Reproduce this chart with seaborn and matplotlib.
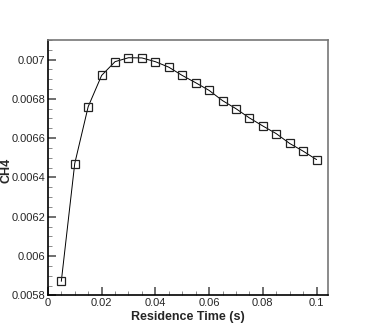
import matplotlib
matplotlib.use('Agg')
import matplotlib.pyplot as plt
from matplotlib.ticker import MultipleLocator, FuncFormatter
import seaborn as sns

residence_time = [0.005, 0.01, 0.015, 0.02, 0.025, 0.03, 0.035, 0.04, 0.045, 0.05,
                  0.055, 0.06, 0.065, 0.07, 0.075, 0.08, 0.085, 0.09, 0.095, 0.1]
ch4 = [0.005872, 0.006471, 0.006760, 0.006919, 0.006989, 0.007009, 0.007008, 0.006989,
       0.006961, 0.006919, 0.006882, 0.006843, 0.006791, 0.006750, 0.006703, 0.006662,
       0.006623, 0.006573, 0.006534, 0.006491]

sns.set_style('ticks')
plt.rcParams['font.family'] = ['Liberation Sans', 'DejaVu Sans']


def trim(v, nd):
    if v == 0:
        return '0'
    return f'{v:.{nd}f}'.rstrip('0').rstrip('.')


fig = plt.figure(figsize=(3.74, 3.32), dpi=100)
ax = fig.add_axes([0.128, 0.110, 0.750, 0.770])

sns.lineplot(x=residence_time, y=ch4, ax=ax, color='black', linewidth=0.7,
             marker='s', markersize=5.5, markerfacecolor='none',
             markeredgecolor='#222222', markeredgewidth=0.9)

ax.set_xlim(0, 0.1044)
ax.set_ylim(0.0058, 0.0071)
ax.xaxis.set_major_locator(MultipleLocator(0.02))
ax.xaxis.set_minor_locator(MultipleLocator(0.005))
ax.yaxis.set_major_locator(MultipleLocator(0.0002))
ax.yaxis.set_minor_locator(MultipleLocator(0.00005))
ax.xaxis.set_major_formatter(FuncFormatter(lambda v, p: trim(v, 2)))
ax.yaxis.set_major_formatter(FuncFormatter(lambda v, p: trim(v, 4)))

ax.tick_params(which='major', direction='in', length=6, width=1.2, color='#555555',
               labelsize=8, pad=2)
ax.tick_params(which='minor', direction='in', length=3, width=0.6, color='#777777')
ax.tick_params(top=False, right=False, which='both')

for side in ['left', 'bottom']:
    ax.spines[side].set_color('black')
    ax.spines[side].set_linewidth(1.2)
for side in ['top', 'right']:
    ax.spines[side].set_visible(True)
    ax.spines[side].set_color('#777777')
    ax.spines[side].set_linewidth(1.2)

ax.set_xlabel('Residence Time (s)', fontsize=9, fontweight='bold', labelpad=2)
ax.set_ylabel('CH4', fontsize=9, fontweight='bold')
ax.yaxis.set_label_coords(-0.127, 0.49)

fig.savefig('out.png', dpi=100)
